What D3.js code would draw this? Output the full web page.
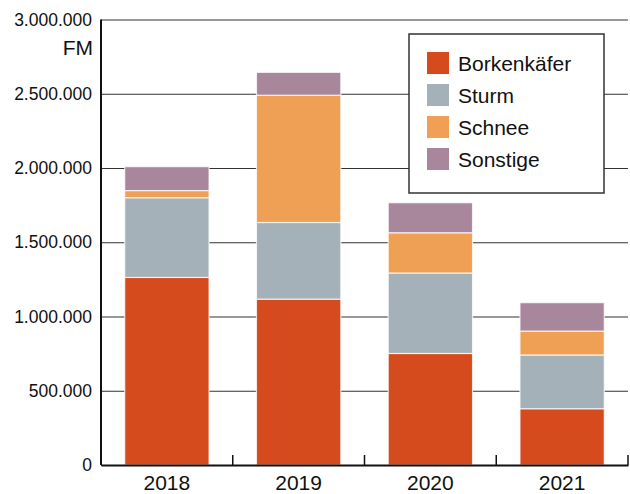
<!DOCTYPE html>
<html>
<head>
<meta charset="utf-8">
<script src="https://cdn.jsdelivr.net/npm/d3@7"></script>
<style>
  body { margin: 0; background: #fff; }
  svg { display: block; font-family: "Liberation Sans", Arial, Helvetica, sans-serif; }
</style>
</head>
<body>
<div id="chart"></div>
<script>
// data (Festmeter je Jahr)
const years = ["2018", "2019", "2020", "2021"];
const series = ["Borkenkäfer", "Sturm", "Schnee", "Sonstige"];
const borkenkaefer = [1263000, 1117000, 751000, 379000];
const sturm = [537000, 516000, 542000, 362000];
const schnee = [48000, 857000, 271000, 161000];
const sonstige = [161000, 154000, 202000, 191000];
const yTicks = [0, 500000, 1000000, 1500000, 2000000, 2500000, 3000000];
const colors = ["#d64b1e", "#a5b1b8", "#f0a055", "#a8879c"];

const W = 630, H = 494;
const margin = { top: 19.5, right: 2, bottom: 29, left: 101 };
const width = W - margin.left - margin.right,
      height = H - margin.top - margin.bottom;

const rows = years.map((y, i) => ({
  year: y,
  "Borkenkäfer": borkenkaefer[i],
  "Sturm": sturm[i],
  "Schnee": schnee[i],
  "Sonstige": sonstige[i]
}));
const stacked = d3.stack().keys(series)(rows);

const de = d3.formatLocale({ decimal: ",", thousands: ".", grouping: [3], currency: ["", " €"] });
const fmt = de.format(",d");

const x = d3.scaleBand().domain(years).range([0, width]).paddingInner(0.36).paddingOuter(0.18);
const y = d3.scaleLinear().domain([0, 3000000]).range([height, 0]);
const color = d3.scaleOrdinal().domain(series).range(colors);

const svg = d3.select("#chart").append("svg")
    .attr("width", W).attr("height", H)
  .append("g")
    .attr("transform", `translate(${margin.left},${margin.top})`);

// y axis with gridlines
const yAxis = svg.append("g")
    .call(d3.axisLeft(y).tickValues(yTicks).tickFormat(fmt).tickSize(-width).tickPadding(9));
yAxis.select(".domain").remove();
yAxis.selectAll(".tick line").attr("stroke", "#333").attr("stroke-width", 1.2);
yAxis.selectAll(".tick text").attr("font-size", 17.5).attr("fill", "#111")
    .attr("font-family", "'Liberation Sans', Arial, sans-serif");

// unit label
svg.append("text")
    .attr("x", -8).attr("y", 35)
    .attr("text-anchor", "end")
    .attr("font-size", 21).attr("fill", "#111")
    .text("FM");

// bars
svg.append("g").selectAll("g")
  .data(stacked)
  .join("g")
    .attr("fill", d => color(d.key))
  .selectAll("rect")
  .data(d => d)
  .join("rect")
    .attr("x", d => x(d.data.year))
    .attr("width", x.bandwidth())
    .attr("y", d => y(d[1]))
    .attr("height", d => y(d[0]) - y(d[1]))
    .attr("stroke", "#fff")
    .attr("stroke-opacity", 0.75)
    .attr("stroke-width", 1.2);

// left axis line
svg.append("line")
    .attr("x1", 0).attr("x2", 0).attr("y1", 0).attr("y2", height)
    .attr("stroke", "#111").attr("stroke-width", 2);

// x axis: labels at band centres, ticks at band boundaries
const xAxis = svg.append("g")
    .attr("transform", `translate(0,${height})`)
    .call(d3.axisBottom(x).tickSize(0).tickPadding(10));
xAxis.select(".domain").attr("stroke", "#111").attr("stroke-width", 2);
xAxis.selectAll(".tick text").attr("font-size", 21).attr("fill", "#111")
    .attr("font-family", "'Liberation Sans', Arial, sans-serif");
svg.append("g").selectAll("line")
  .data(years)
  .join("line")
    .attr("x1", d => x(d) - x.step() * x.paddingOuter() + x.step())
    .attr("x2", d => x(d) - x.step() * x.paddingOuter() + x.step())
    .attr("y1", height).attr("y2", height - 10)
    .attr("stroke", "#111").attr("stroke-width", 1.5);

// legend
const lg = svg.append("g").attr("transform", `translate(${409 - margin.left},${34 - margin.top})`);
lg.append("rect")
    .attr("width", 195).attr("height", 159)
    .attr("fill", "#fff").attr("stroke", "#333").attr("stroke-width", 1.5);
const item = lg.selectAll(".item")
  .data(series)
  .join("g")
    .attr("class", "item")
    .attr("transform", (d, i) => `translate(18,${18 + i * 32})`);
item.append("rect").attr("width", 22).attr("height", 22).attr("fill", d => color(d));
item.append("text")
    .attr("x", 31).attr("y", 19)
    .attr("font-size", 21).attr("fill", "#111")
    .text(d => d);
</script>
</body>
</html>
